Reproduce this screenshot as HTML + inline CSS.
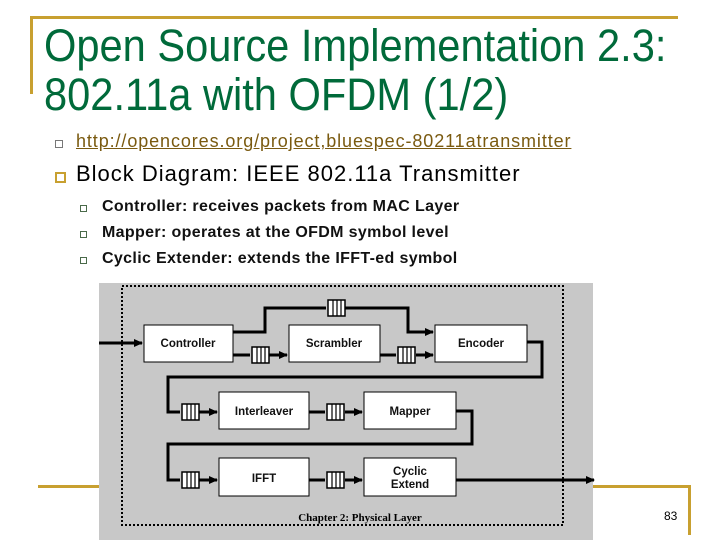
<!DOCTYPE html>
<html><head><meta charset="utf-8"><style>
body{margin:0;width:720px;height:540px;background:#fff;overflow:hidden;position:relative;font-family:"Liberation Sans",sans-serif}
.t{position:absolute;left:44px;color:#006a3a;font-size:45px;line-height:49px;top:21px;transform:scaleX(0.925);transform-origin:0 0;white-space:nowrap}
.b{position:absolute;color:#000;white-space:nowrap}
</style></head><body>
<div style="position:absolute;left:30px;top:16px;width:648px;height:3px;background:#c8a030"></div>
<div style="position:absolute;left:30px;top:16px;width:3px;height:78px;background:#c8a030"></div>
<div class="t">Open Source Implementation 2.3:<br>802.11a with OFDM (1/2)</div>
<div style="position:absolute;left:55px;top:140px;width:6px;height:6px;border:1px solid #777"></div>
<div class="b" style="left:76px;top:131px;font-size:18px;letter-spacing:0.9px;color:#7a5a10;text-decoration:underline">http://opencores.org/project,bluespec-80211atransmitter</div>
<div style="position:absolute;left:55px;top:172px;width:7px;height:7px;border:2px solid #c8a030"></div>
<div class="b" style="left:76px;top:161px;font-size:22px;letter-spacing:1px">Block Diagram: IEEE 802.11a Transmitter</div>
<div style="position:absolute;left:80px;top:205px;width:5px;height:5px;border:1px solid #4a6a4a"></div>
<div style="position:absolute;left:80px;top:231px;width:5px;height:5px;border:1px solid #4a6a4a"></div>
<div style="position:absolute;left:80px;top:257px;width:5px;height:5px;border:1px solid #4a6a4a"></div>
<div class="b" style="left:102px;top:194px;font-size:16px;line-height:26px;font-weight:bold;letter-spacing:0.35px;color:#111">Controller: receives packets from MAC Layer<br>Mapper: operates at the OFDM symbol level<br>Cyclic Extender: extends the IFFT-ed symbol</div>
<div style="position:absolute;left:38px;top:485px;width:652px;height:3px;background:#c8a030"></div>
<div style="position:absolute;left:688px;top:485px;width:3px;height:50px;background:#c8a030"></div>
<div class="b" style="left:664px;top:509px;font-size:12px">83</div>
<svg style="position:absolute;left:0;top:0" width="720" height="540">
<defs><marker id="a" markerWidth="9" markerHeight="8" refX="8" refY="4" orient="auto" markerUnits="userSpaceOnUse" viewBox="0 0 9 8"><path d="M0,0L9,4L0,8z" fill="#000"/></marker>
<g id="q"><rect x="0" y="0" width="17" height="16" fill="#fff" stroke="#000" stroke-width="1.5"/><path d="M5,0V16M9,0V16M13,0V16" stroke="#000" stroke-width="1.2"/></g></defs>
<rect x="99" y="283" width="494" height="257" fill="#c8c8c8"/>
<rect x="122" y="286" width="441" height="239" fill="none" stroke="#000" stroke-width="2" stroke-dasharray="2,2"/>
<g fill="none" stroke="#000" stroke-width="3">
<path d="M99,343H142" marker-end="url(#a)"/>
<path d="M233,332H265V308H326"/><path d="M345,308H408V332H433" marker-end="url(#a)"/>
<path d="M233,355H250"/><path d="M269,355H287" marker-end="url(#a)"/>
<path d="M380,355H396"/><path d="M416,355H433" marker-end="url(#a)"/>
<path d="M527,342H542V377H168V412H180"/>
<path d="M199,412H217" marker-end="url(#a)"/>
<path d="M309,412H325"/><path d="M345,412H362" marker-end="url(#a)"/>
<path d="M456,411H472V444H168V480H180"/>
<path d="M199,480H217" marker-end="url(#a)"/>
<path d="M309,480H325"/><path d="M345,480H362" marker-end="url(#a)"/>
<path d="M456,480H594" marker-end="url(#a)"/>
</g>
<use href="#q" x="328" y="300"/><use href="#q" x="252" y="347"/><use href="#q" x="398" y="347"/>
<use href="#q" x="182" y="404"/><use href="#q" x="327" y="404"/>
<use href="#q" x="182" y="472"/><use href="#q" x="327" y="472"/>
<g fill="#fff" stroke="#000" stroke-width="1">
<rect x="144" y="325" width="89" height="37"/><rect x="289" y="325" width="91" height="37"/><rect x="435" y="325" width="92" height="37"/>
<rect x="219" y="392" width="90" height="37"/><rect x="364" y="392" width="92" height="37"/>
<rect x="219" y="458" width="90" height="38"/><rect x="364" y="458" width="92" height="38"/>
</g>
<g font-family="Liberation Sans,sans-serif" font-weight="bold" font-size="11.5" text-anchor="middle" fill="#111">
<text x="188" y="347">Controller</text><text x="334" y="347">Scrambler</text><text x="481" y="347">Encoder</text>
<text x="264" y="415">Interleaver</text><text x="410" y="415">Mapper</text>
<text x="264" y="482">IFFT</text><text x="410" y="475">Cyclic</text><text x="410" y="488">Extend</text>
</g>
<text x="360" y="521" text-anchor="middle" font-family="Liberation Serif,serif" font-size="11" font-weight="bold" fill="#000">Chapter 2: Physical Layer</text>
</svg>
</body></html>
